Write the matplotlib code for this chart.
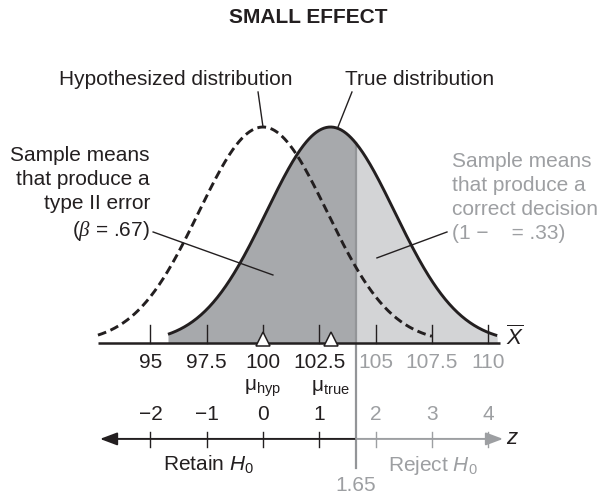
import numpy as np
import matplotlib.pyplot as plt

plt.rcParams['font.family'] = ['Liberation Sans', 'DejaVu Sans']
plt.rcParams['mathtext.fontset'] = 'custom'
plt.rcParams['mathtext.rm'] = 'Liberation Sans'
plt.rcParams['mathtext.it'] = 'Liberation Sans:italic'
plt.rcParams['mathtext.sf'] = 'Liberation Serif:italic'

# distributions of the sample mean
mu_hyp = 100
mu_true = 103
se = 2.5            # standard error used for the z scale
curve_sd = 2.85     # spread used to draw the bell curves
z_crit = 1.65
beta = .67
power = .33

x_ticks = [95, 97.5, 100, 102.5, 105, 107.5, 110]
z_ticks = [-2, -1, 0, 1, 2, 3, 4]
hyp_range = (92.67, 107.5)
true_range = (95.78, 110.4)

black = '#231f20'
gray = '#9d9fa2'
dark_fill = '#a7a9ac'
light_fill = '#d3d4d6'
line_gray = '#939598'
fs = 15


def bell(x, mu):
    return np.exp(-0.5 * ((x - mu) / curve_sd) ** 2)


x_crit = mu_hyp + z_crit * se

fig = plt.figure(figsize=(6.01, 4.94), dpi=100)
ax = fig.add_axes([0, 0, 1, 1])
ax.set_xlim(88.32, 115.01)
ax.set_ylim(-0.699, 1.588)
ax.axis('off')

# true distribution, split at the critical value
xt = np.linspace(*true_range, 400)
left = xt <= x_crit
ax.fill_between(xt[~left], 0, bell(xt[~left], mu_true), color=light_fill, lw=0)
xl = np.append(xt[left], x_crit)
ax.fill_between(xl, 0, bell(xl, mu_true), color=dark_fill, lw=0)
ax.plot(xt, bell(xt, mu_true), color=black, lw=2.1, solid_capstyle='butt', zorder=4)

# hypothesized distribution
xh = np.linspace(*hyp_range, 400)
ax.plot(xh, bell(xh, mu_hyp), color=black, lw=2.1, ls=(0, (3, 1.6)), zorder=5)

# critical value line
ax.plot([x_crit, x_crit], [-0.579, bell(x_crit, mu_true)], color=line_gray, lw=1.6, zorder=3)

# sample mean axis
ax.plot([92.67, 110.52], [0, 0], color=black, lw=1.8, zorder=6, solid_capstyle='butt')
for t in x_ticks:
    ax.plot([t, t], [0, 0.083], color=black, lw=1.0, zorder=6)
    col = black if t < x_crit else gray
    ax.text(t, -0.088, f'{t:g}', ha='center', va='center', fontsize=fs, color=col)
ax.text(111.19, 0.023, r'$\overline{X}$', ha='center', va='center', fontsize=fs + 1, color=black)

for m in (mu_hyp, mu_true):
    ax.plot(m, 0.02, marker='^', ms=10.5, mfc='white', mec=black, mew=1.1, zorder=7, clip_on=False)
ax.text(mu_hyp, -0.208, r'μ$_\mathrm{hyp}$', ha='center', va='center', fontsize=fs, color=black)
ax.text(mu_true, -0.208, r'μ$_\mathrm{true}$', ha='center', va='center', fontsize=fs, color=black)

# z axis
zy = -0.444
arrow = '-|>,head_length=0.8,head_width=0.3'
ax.annotate('', xy=(92.76, zy), xytext=(x_crit, zy),
            arrowprops=dict(arrowstyle=arrow, color=black, lw=1.4, mutation_scale=13, shrinkA=0, shrinkB=0))
ax.annotate('', xy=(110.66, zy), xytext=(x_crit, zy),
            arrowprops=dict(arrowstyle=arrow, color=gray, lw=1.4, mutation_scale=13, shrinkA=0, shrinkB=0))
for z in z_ticks:
    xz = mu_hyp + z * se
    col = black if xz < x_crit else gray
    ax.plot([xz, xz], [-0.412, -0.481], color=col, lw=1.0)
    ax.text(xz, -0.333, f'{z}'.replace('-', '\u2212'), ha='center', va='center', fontsize=fs, color=col)
ax.text(111.1, zy, r'$z$', ha='center', va='center', fontsize=fs + 1, color=black)

ax.text(97.59, -0.565, r'Retain $H_0$', ha='center', va='center', fontsize=fs, color=black)
ax.text(107.55, -0.565, r'Reject $H_0$', ha='center', va='center', fontsize=fs, color=gray)
ax.text(x_crit, -0.66, f'{z_crit}', ha='center', va='center', fontsize=fs, color=gray)

# labels and leaders
ax.text(102.0, 1.505, 'SMALL EFFECT', ha='center', va='center', fontsize=fs, fontweight='bold', color=black)
ax.text(96.14, 1.218, 'Hypothesized distribution', ha='center', va='center', fontsize=fs, color=black)
ax.plot([99.78, mu_hyp], [1.162, 1.0], color=black, lw=1.0)
ax.text(106.97, 1.218, 'True distribution', ha='center', va='center', fontsize=fs, color=black)
ax.plot([103.95, 103.33], [1.162, 1.0], color=black, lw=1.0)

ax.text(94.98, 0.6875, 'Sample means\nthat produce a\ntype II error\n' + r'($\mathsf{\beta}$ = ' + f'{beta:.2f}'.lstrip('0') + ')',
        ha='right', va='center', fontsize=fs, color=black, linespacing=1.32, multialignment='right')
ax.plot([95.12, 100.44], [0.514, 0.315], color=black, lw=1.0)

ax.text(108.39, 0.674, 'Sample means\nthat produce a\ncorrect decision\n(1 \u2212    = ' + f'{power:.2f}'.lstrip('0') + ')',
        ha='left', va='center', fontsize=fs, color=gray, linespacing=1.32)
ax.plot([108.17, 105.06], [0.514, 0.394], color=black, lw=1.0)

fig.savefig('out.png', dpi=100)
